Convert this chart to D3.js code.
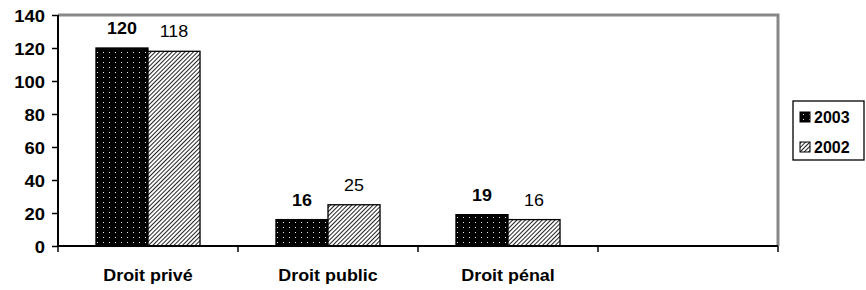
<!DOCTYPE html>
<html>
<head>
<meta charset="utf-8">
<script src="https://cdn.jsdelivr.net/npm/d3@7"></script>
<style>
  body { margin: 0; background: #fff; }
  text { font-family: "Liberation Sans", Arial, sans-serif; }
</style>
</head>
<body>
<script>
var categories = ["Droit privé", "Droit public", "Droit pénal", ""];
var series = ["2003", "2002"];
var values2003 = [120, 16, 19, null];
var values2002 = [118, 25, 16, null];
var yTicks = [0, 20, 40, 60, 80, 100, 120, 140];

var W = 866, H = 290;
var plotL = 58, plotR = 778, plotT = 15, plotB = 246;

var svg = d3.select("body").append("svg").attr("width", W).attr("height", H);
var defs = svg.append("defs");

// dotted black fill for 2003
var dots = defs.append("pattern").attr("id", "dots")
  .attr("patternUnits", "userSpaceOnUse").attr("width", 6).attr("height", 5);
dots.append("rect").attr("width", 6).attr("height", 5).attr("fill", "#000");
dots.append("rect").attr("x", 3).attr("y", 2).attr("width", 1).attr("height", 1).attr("fill", "#e8e8e8");

// diagonal hatch for 2002
var hatch = defs.append("pattern").attr("id", "hatch")
  .attr("patternUnits", "userSpaceOnUse").attr("width", 3).attr("height", 3)
  .attr("patternTransform", "rotate(45)");
hatch.append("rect").attr("width", 3).attr("height", 3).attr("fill", "#fff");
hatch.append("rect").attr("width", 1).attr("height", 3).attr("fill", "#222");

var fills = { "2003": "url(#dots)", "2002": "url(#hatch)" };

var x0 = d3.scaleBand().domain(categories).range([plotL, plotR]);
var x1 = d3.scaleBand().domain(series).range([0, x0.bandwidth()]).paddingOuter(0.73);
var y = d3.scaleLinear().domain([0, 140]).range([plotB, plotT]);

// plot frame (grey top & right)
svg.append("path")
  .attr("d", "M" + plotL + "," + plotT + "H" + plotR + "V" + plotB)
  .attr("fill", "none").attr("stroke", "#888").attr("stroke-width", 3);

var rows = categories.map(function(c, i) {
  return { cat: c, "2003": values2003[i], "2002": values2002[i] };
});

var groups = svg.selectAll("g.grp").data(rows).enter().append("g")
  .attr("transform", function(d) { return "translate(" + x0(d.cat) + ",0)"; });

groups.selectAll("rect").data(function(d) {
  return series.filter(function(s) { return d[s] != null; })
    .map(function(s) { return { s: s, v: d[s] }; });
}).enter().append("rect")
  .attr("x", function(d) { return x1(d.s); })
  .attr("y", function(d) { return y(d.v); })
  .attr("width", x1.bandwidth())
  .attr("height", function(d) { return y(0) - y(d.v); })
  .attr("fill", function(d) { return fills[d.s]; })
  .attr("stroke", "#000").attr("stroke-width", 1.3);

groups.selectAll("text.val").data(function(d) {
  return series.filter(function(s) { return d[s] != null; })
    .map(function(s) { return { s: s, v: d[s] }; });
}).enter().append("text")
  .attr("text-anchor", "middle")
  .attr("transform", function(d) {
    return "translate(" + (x1(d.s) + x1.bandwidth() / 2) + "," + (y(d.v) - 14) + ") scale(1.12,1)";
  })
  .style("font-size", "16px")
  .style("font-weight", function(d) { return d.s == "2003" ? "bold" : "normal"; })
  .text(function(d) { return d.v; });

// y axis
var yAxis = svg.append("g").attr("transform", "translate(" + plotL + ",0)")
  .call(d3.axisLeft(y).tickValues(yTicks).tickSize(6).tickPadding(10));
yAxis.select(".domain").attr("stroke", "#000").attr("stroke-width", 2)
  .attr("d", "M0," + plotT + "V" + plotB);
yAxis.selectAll(".tick line").attr("stroke", "#000").attr("stroke-width", 1.5);
yAxis.selectAll(".tick text")
  .attr("fill", "#000").style("font-size", "16px").style("font-weight", "bold")
  .attr("x", null).attr("dy", null)
  .attr("transform", "translate(-13,6) scale(1.15,1)");

// x axis
var edges = categories.map(function(c) { return x0(c); }).concat([plotR]);
svg.append("line").attr("x1", plotL).attr("x2", plotR).attr("y1", plotB).attr("y2", plotB)
  .attr("stroke", "#000").attr("stroke-width", 2);
svg.selectAll("line.xt").data(edges).enter().append("line")
  .attr("x1", function(d) { return d; }).attr("x2", function(d) { return d; })
  .attr("y1", plotB).attr("y2", plotB + 6)
  .attr("stroke", "#000").attr("stroke-width", 1.5);
svg.selectAll("text.cat").data(categories).enter().append("text")
  .attr("text-anchor", "middle")
  .attr("transform", function(d) {
    return "translate(" + (x0(d) + x0.bandwidth() / 2) + ",281) scale(1.12,1)";
  })
  .style("font-size", "16px").style("font-weight", "bold")
  .text(function(d) { return d; });

// legend
var lg = svg.append("g");
lg.append("rect").attr("x", 793).attr("y", 101).attr("width", 71).attr("height", 59)
  .attr("fill", "#fff").attr("stroke", "#000").attr("stroke-width", 1.3);
var items = lg.selectAll("g.it").data(series).enter().append("g")
  .attr("transform", function(d, i) { return "translate(800," + (117 + i * 30) + ")"; });
items.append("rect").attr("x", 0).attr("y", -5).attr("width", 10).attr("height", 10)
  .attr("fill", function(d) { return fills[d]; }).attr("stroke", "#000");
items.append("text").attr("x", 14).attr("y", 6)
  .style("font-size", "16px").style("font-weight", "bold")
  .text(function(d) { return d; });
</script>
</body>
</html>
